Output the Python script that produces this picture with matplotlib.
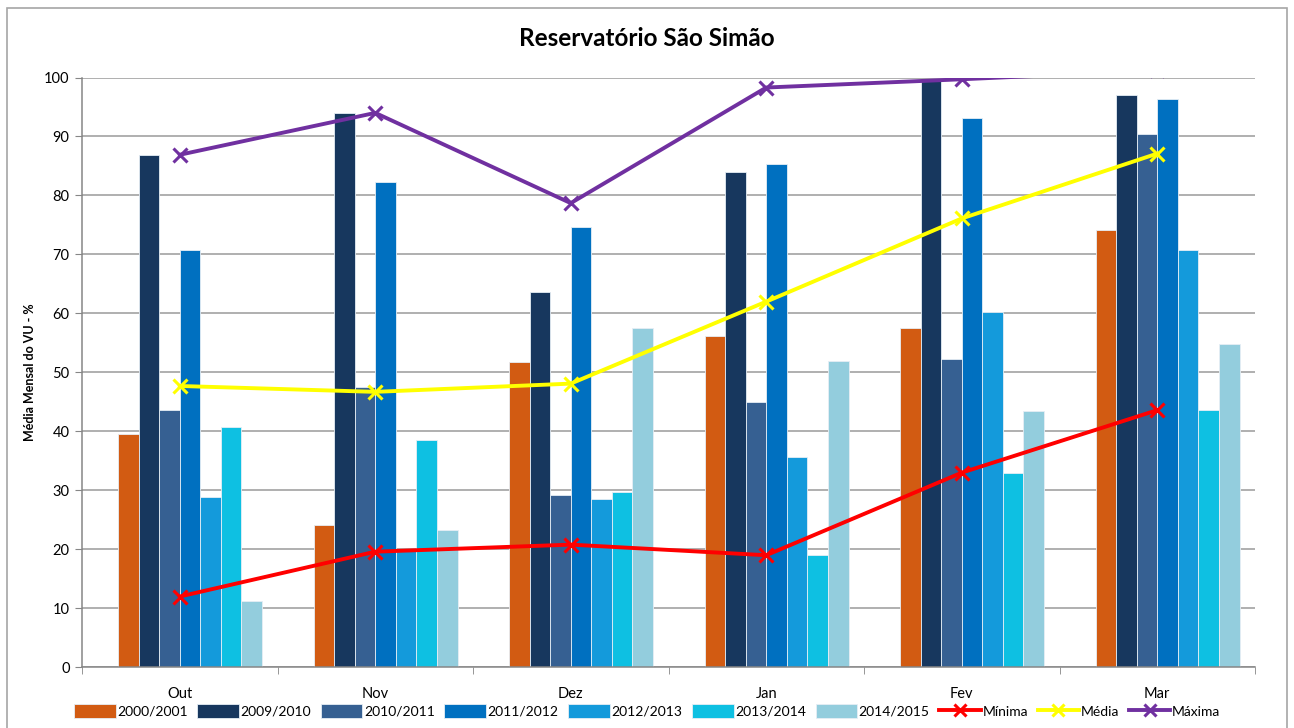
import numpy as np
import matplotlib
matplotlib.use("Agg")
import matplotlib.pyplot as plt
from matplotlib.patches import Rectangle

plt.rcParams['font.family'] = ['Lato', 'DejaVu Sans']

meses = ['Out', 'Nov', 'Dez', 'Jan', 'Fev', 'Mar']

anos = ['2000/2001', '2009/2010', '2010/2011', '2011/2012',
        '2012/2013', '2013/2014', '2014/2015']
v_2000 = [39.5, 24.2, 51.7, 56.1, 57.6, 74.2]
v_2009 = [86.8, 93.9, 63.6, 83.9, 99.7, 97.0]
v_2010 = [43.7, 47.5, 29.2, 44.9, 52.2, 90.5]
v_2011 = [70.7, 82.2, 74.6, 85.4, 93.2, 96.4]
v_2012 = [28.8, 19.9, 28.5, 35.6, 60.3, 70.7]
v_2013 = [40.7, 38.5, 29.7, 19.0, 33.0, 43.6]
v_2014 = [11.2, 23.2, 57.5, 51.9, 43.4, 54.8]

minima = [12.0, 19.6, 20.8, 19.0, 33.0, 43.6]
media = [47.7, 46.7, 48.1, 62.0, 76.1, 87.1]
maxima = [86.9, 94.0, 78.7, 98.3, 99.7, 101.2]

cores = ['#D25B12', '#17375E', '#366092', '#0070C0',
         '#149ADB', '#0EC0E2', '#93CDDD']

series = [v_2000, v_2009, v_2010, v_2011, v_2012, v_2013, v_2014]

fig = plt.figure(figsize=(12.94, 7.28), dpi=100)
ax = fig.add_axes([82/1294, 1 - 667.3/728, (1255-82)/1294, 589.8/728])

# borda do grafico
fig.patches.append(Rectangle((7/1294, -0.01), 1280/1294, 1 - 8/728 + 0.01,
                             transform=fig.transFigure, fill=False,
                             edgecolor='#A6A6A6', lw=1.2))

x = np.arange(len(meses))
w = 1 / 9.5  # 8 slots (primeiro vazio) + 150% de espaco
handles = []
for i, (s, c, nome) in enumerate(zip(series, cores, anos)):
    slot = i + 1
    b = ax.bar(x + (slot - 3.5) * w, s, width=w, color=c, edgecolor='#E6EEF5',
               linewidth=0.6, label=nome, zorder=2)
    handles.append(b)

for vals, c, nome in [(minima, '#FF0000', 'Mínima'),
                      (media, '#FFFF00', 'Média'),
                      (maxima, '#7030A0', 'Máxima')]:
    ln, = ax.plot(x, vals, color=c, lw=2.8, marker='x', ms=10, mew=2.2,
                  label=nome, zorder=3)
    handles.append(ln)

ax.set_xlim(-0.5, len(meses) - 0.5)
ax.set_ylim(0, 100)
ax.set_yticks(range(0, 101, 10))
ax.set_xticks(x)
ax.set_xticklabels(meses)
ax.set_xticks(np.arange(-0.5, len(meses)), minor=True)
ax.tick_params(axis='x', which='major', length=0, pad=14, labelsize=10.5)
ax.tick_params(axis='x', which='minor', length=5, color='#868686')
ax.tick_params(axis='y', length=5, color='#868686', labelsize=10.5, pad=4)
ax.yaxis.grid(True, color='#9A9A9A', lw=1.1, zorder=0)
ax.set_axisbelow(True)
for sp in ['top', 'right']:
    ax.spines[sp].set_visible(False)
for sp in ['left', 'bottom']:
    ax.spines[sp].set_color('#868686')
    ax.spines[sp].set_linewidth(1.1)

ax.set_ylabel('Média Mensal do VU - %', fontsize=9, fontweight='bold',
              labelpad=6)
fig.text(0.5, 1 - 38/728, 'Reservatório São Simão', ha='center', va='center',
         fontsize=17.5, fontweight='bold')

fig.legend(handles, [h.get_label() for h in handles], loc='center',
           bbox_to_anchor=(0.5, 1 - 711/728), ncol=10,
           frameon=False, fontsize=10, handlelength=3.0, handleheight=1.1,
           handletextpad=0.1, columnspacing=0.7, markerscale=0.8)

fig.savefig('out.png', dpi=100)
